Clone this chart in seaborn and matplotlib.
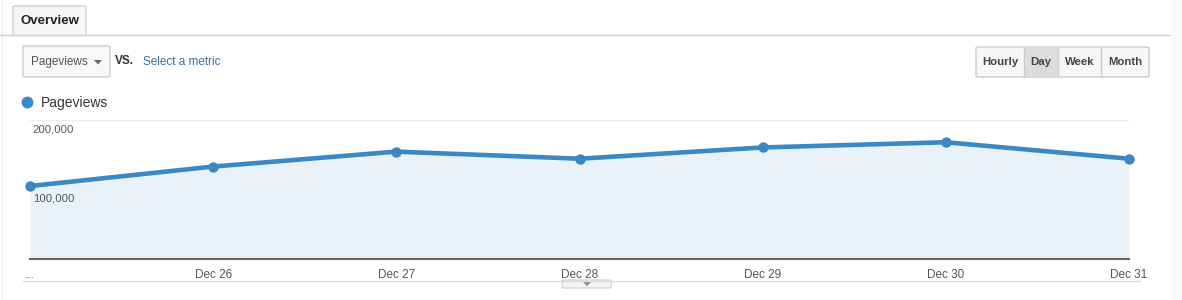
import matplotlib
matplotlib.use("Agg")
import matplotlib.pyplot as plt
import seaborn as sns
import pandas as pd
from matplotlib.patches import FancyBboxPatch, Rectangle, Polygon
from matplotlib.lines import Line2D

# ---- data ----
dates = ["Dec 25", "Dec 26", "Dec 27", "Dec 28", "Dec 29", "Dec 30", "Dec 31"]
pageviews = [105000, 133000, 154500, 144300, 160500, 168000, 144300]
tick_labels = ["...", "Dec 26", "Dec 27", "Dec 28", "Dec 29", "Dec 30", "Dec 31"]
y_ticks = [100000, 200000]
y_tick_labels = ["100,000", "200,000"]
metric_name = "Pageviews"
buttons = ["Hourly", "Day", "Week", "Month"]

sns.set_theme(style="white")
plt.rcParams["font.family"] = ["Liberation Sans", "DejaVu Sans"]

W, H = 1182, 300
fig = plt.figure(figsize=(W / 100, H / 100), dpi=100)
fig.patch.set_facecolor("white")

def fx(x):
    return x / W

def fy(y):
    return 1 - y / H

LINE = "#3a88c4"
FILL = "#eaf2f9"

# main axes
x0, x1, ytop, ybot = 30, 1129, 120, 259
ax = fig.add_axes([fx(x0), fy(ybot), fx(x1) - fx(x0), fy(ytop) - fy(ybot)])
df = pd.DataFrame({"idx": range(len(dates)), "date": dates, "value": pageviews})
ax.fill_between(df["idx"], 0, df["value"], color=FILL, zorder=1, linewidth=0)
for v in y_ticks:
    ax.axhline(v, color="#ececec", linewidth=1, zorder=0.5)
sns.lineplot(data=df, x="idx", y="value", ax=ax, color=LINE, linewidth=3.3,
             marker="o", markersize=7.5, markeredgewidth=0, zorder=3, clip_on=False)
ax.set_xlim(0, len(dates) - 1)
ax.set_ylim(0, 200000)
ax.set_xticks([])
ax.set_yticks([])
ax.set_xlabel("")
ax.set_ylabel("")
for s in ["top", "right", "left"]:
    ax.spines[s].set_visible(False)
ax.spines["bottom"].set_color("#666666")
ax.spines["bottom"].set_linewidth(1.5)
ax.patch.set_alpha(0)

# y labels inside, below gridlines
for v, lab in zip(y_ticks, y_tick_labels):
    ax.annotate(lab, xy=(0, v), xytext=(2, -3), textcoords="offset points",
                ha="left", va="top", fontsize=8.2, color="#555555")

# x labels
for i, lab in enumerate(tick_labels):
    ax.annotate(lab, xy=(i, 0), xytext=(0, -7), textcoords="offset points",
                xycoords=("data", "axes fraction"),
                ha="center", va="top", fontsize=8.5, color="#555555")

# ---- chrome ----
def rect(x, y, w, h, fc, ec, lw=1, r=0.0):
    p = FancyBboxPatch((fx(x), fy(y + h)), fx(w), h / H,
                       boxstyle=f"round,pad=0,rounding_size={r}",
                       transform=fig.transFigure, facecolor=fc, edgecolor=ec,
                       linewidth=lw)
    fig.add_artist(p)

def hline(xa, xb, y, c="#d6d6d6", lw=1):
    fig.add_artist(Line2D([fx(xa), fx(xb)], [fy(y), fy(y)], color=c, lw=lw,
                          transform=fig.transFigure))

def vline(x, ya, yb, c="#d6d6d6", lw=1):
    fig.add_artist(Line2D([fx(x), fx(x)], [fy(ya), fy(yb)], color=c, lw=lw,
                          transform=fig.transFigure))

# right page margin
fig.add_artist(Rectangle((fx(1172), 0), fx(W - 1172), 1, transform=fig.transFigure,
                         facecolor="#f7f8f9", edgecolor="none"))
vline(2, 0, 300, "#eeeeee")

# overview tab
hline(0, 1170, 35, "#cfcfcf")
rect(13, 6, 73, 29.5, "#f6f6f6", "#d0d0d0", 1, 0.003)
fig.add_artist(Rectangle((fx(13.5), fy(36)), fx(72), 2 / H, transform=fig.transFigure,
                         facecolor="#f6f6f6", edgecolor="none"))
fig.text(fx(49.5), fy(21), "Overview", ha="center", va="center", fontsize=9.5,
         fontweight="bold", color="#222222")

# metric dropdown
rect(23, 46, 87, 31, "#f8f8f8", "#cccccc", 1, 0.003)
fig.text(fx(31), fy(62), metric_name, ha="left", va="center", fontsize=8.5, color="#555555")
fig.add_artist(Polygon([[fx(94), fy(60)], [fx(102), fy(60)], [fx(98), fy(64.5)]],
                       closed=True, transform=fig.transFigure, facecolor="#666666",
                       edgecolor="none"))
fig.text(fx(115), fy(61), "VS.", ha="left", va="center", fontsize=8.5,
         fontweight="bold", color="#333333")
fig.text(fx(143), fy(62), "Select a metric", ha="left", va="center", fontsize=8.5,
         color="#3b6ea5")

# time buttons
edges = [976, 1024, 1058, 1101, 1149]
rect(976, 47, 173, 30, "#f7f7f7", "#cccccc", 1, 0.003)
fig.add_artist(Rectangle((fx(1024), fy(77)), fx(34), 30 / H, transform=fig.transFigure,
                         facecolor="#dcdcdc", edgecolor="none"))
for e in edges[1:-1]:
    vline(e, 47, 77, "#cccccc")
for i, b in enumerate(buttons):
    cx = (edges[i] + edges[i + 1]) / 2
    fig.text(fx(cx), fy(62), b, ha="center", va="center", fontsize=8.2,
             fontweight="bold", color="#444444")

# legend
fig.add_artist(Line2D([fx(27)], [fy(102)], marker="o", markersize=8.5, color=LINE,
                      markeredgewidth=0, transform=fig.transFigure, linestyle="none"))
fig.text(fx(41), fy(102.5), metric_name, ha="left", va="center", fontsize=10, color="#333333")

# bottom line and toggle tab
hline(23, 1140, 280.5, "#dddddd")
rect(562, 280, 49, 8, "#f4f4f4", "#d5d5d5", 1, 0.002)
fig.add_artist(Polygon([[fx(583), fy(282)], [fx(591), fy(282)], [fx(587), fy(286)]],
                       closed=True, transform=fig.transFigure, facecolor="#888888",
                       edgecolor="none"))

fig.savefig("out.png", dpi=100, facecolor="white")
